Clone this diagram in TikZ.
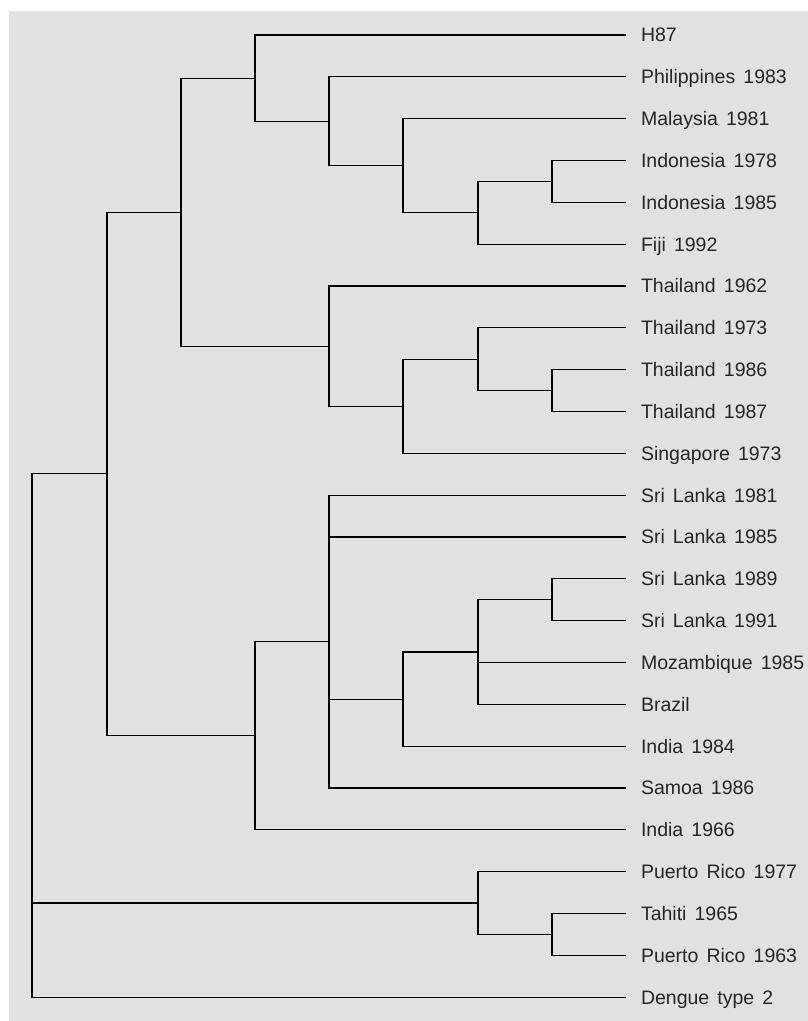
\documentclass[tikz,border=0pt]{standalone}
\usepackage{fontspec}
\setmainfont{Liberation Sans}[WordSpace=1.5]
\usepackage{tikz}
\usepackage{xcolor}
\definecolor{panelgray}{HTML}{E1E1E1}
\definecolor{labelgray}{HTML}{262626}

\begin{document}
\begin{tikzpicture}[x=1pt, y=-41.83pt, yshift=-35pt, line width=1.15pt,
    leaf/.style={anchor=west, inner xsep=15pt, inner ysep=0pt, outer sep=0pt,
        text height=13.9pt, text depth=0pt, font=\fontsize{19.5}{22}\selectfont,
        text=labelgray}]
    % Page and grey panel
    \useasboundingbox (0,-0.8367) rectangle (807,23.571);
    \fill[panelgray] (9,-0.5738) rectangle (820,24);
    % Leaves (one row per strain)
    \node[leaf] (h87)    at (626,0)  {H87};
    \node[leaf] (phil)   at (626,1)  {Philippines 1983};
    \node[leaf] (malay)  at (626,2)  {Malaysia 1981};
    \node[leaf] (indoA)  at (626,3)  {Indonesia 1978};
    \node[leaf] (indoB)  at (626,4)  {Indonesia 1985};
    \node[leaf] (fiji)   at (626,5)  {Fiji 1992};
    \node[leaf] (thaiA)  at (626,6)  {Thailand 1962};
    \node[leaf] (thaiB)  at (626,7)  {Thailand 1973};
    \node[leaf] (thaiC)  at (626,8)  {Thailand 1986};
    \node[leaf] (thaiD)  at (626,9)  {Thailand 1987};
    \node[leaf] (sing)   at (626,10) {Singapore 1973};
    \node[leaf] (slA)    at (626,11) {Sri Lanka 1981};
    \node[leaf] (slB)    at (626,12) {Sri Lanka 1985};
    \node[leaf] (slC)    at (626,13) {Sri Lanka 1989};
    \node[leaf] (slD)    at (626,14) {Sri Lanka 1991};
    \node[leaf] (moz)    at (626,15) {Mozambique 1985};
    \node[leaf] (brazil) at (626,16) {Brazil};
    \node[leaf] (indiaA) at (626,17) {India 1984};
    \node[leaf] (samoa)  at (626,18) {Samoa 1986};
    \node[leaf] (indiaB) at (626,19) {India 1966};
    \node[leaf] (prA)    at (626,20) {Puerto Rico 1977};
    \node[leaf] (tahiti) at (626,21) {Tahiti 1965};
    \node[leaf] (prB)    at (626,22) {Puerto Rico 1963};
    \node[leaf] (den)    at (626,23) {Dengue type 2};
    % Branch points
    \coordinate (indo)  at (552,3.5);
    \coordinate (fijiG) at (478,4.25);
    \coordinate (malG)  at (403,3.125);
    \coordinate (phiG)  at (329,2.0625);
    \coordinate (h87G)  at (255,1.03125);
    \coordinate (thCD)  at (552,8.5);
    \coordinate (thB)   at (478,7.75);
    \coordinate (singG) at (403,8.875);
    \coordinate (thA)   at (329,7.4375);
    \coordinate (asia)  at (181,4.2344);
    \coordinate (slCD)  at (552,13.5);
    \coordinate (braG)  at (478,14.75);
    \coordinate (indG)  at (403,15.875);
    \coordinate (slG)   at (329,14.5);
    \coordinate (ind66) at (255,16.75);
    \coordinate (big)   at (107,10.492);
    \coordinate (tah)   at (552,21.5);
    \coordinate (prG)   at (478,20.75);
    \coordinate (root)  at (32,16.746);
    % Upper clade
    \draw (indo) |- (indoA.west);
    \draw (indo) |- (indoB.west);
    \draw (fijiG) |- (indo);
    \draw (fijiG) |- (fiji.west);
    \draw (malG) |- (malay.west);
    \draw (malG) |- (fijiG);
    \draw (phiG) |- (phil.west);
    \draw (phiG) |- (malG);
    \draw (h87G) |- (h87.west);
    \draw (h87G) |- (phiG);
    % Thailand clade
    \draw (thCD) |- (thaiC.west);
    \draw (thCD) |- (thaiD.west);
    \draw (thB) |- (thaiB.west);
    \draw (thB) |- (thCD);
    \draw (singG) |- (thB);
    \draw (singG) |- (sing.west);
    \draw (thA) |- (thaiA.west);
    \draw (thA) |- (singG);
    \draw (asia) |- (h87G);
    \draw (asia) |- (thA);
    % Sri Lanka clade
    \draw (slCD) |- (slC.west);
    \draw (slCD) |- (slD.west);
    \draw (braG) |- (slCD);
    \draw (braG) |- (moz.west);
    \draw (braG) |- (brazil.west);
    \draw (indG) |- (braG);
    \draw (indG) |- (indiaA.west);
    \draw (slG) |- (slA.west);
    \draw (slG) |- (slB.west);
    \draw (slG) |- (indG);
    \draw (slG) |- (samoa.west);
    \draw (ind66) |- (slG);
    \draw (ind66) |- (indiaB.west);
    \draw (big) |- (asia);
    \draw (big) |- (ind66);
    % Caribbean clade and root
    \draw (tah) |- (tahiti.west);
    \draw (tah) |- (prB.west);
    \draw (prG) |- (prA.west);
    \draw (prG) |- (tah);
    \draw (root) |- (big);
    \draw (root) |- (prG);
    \draw (root) |- (den.west);
\end{tikzpicture}
\end{document}
